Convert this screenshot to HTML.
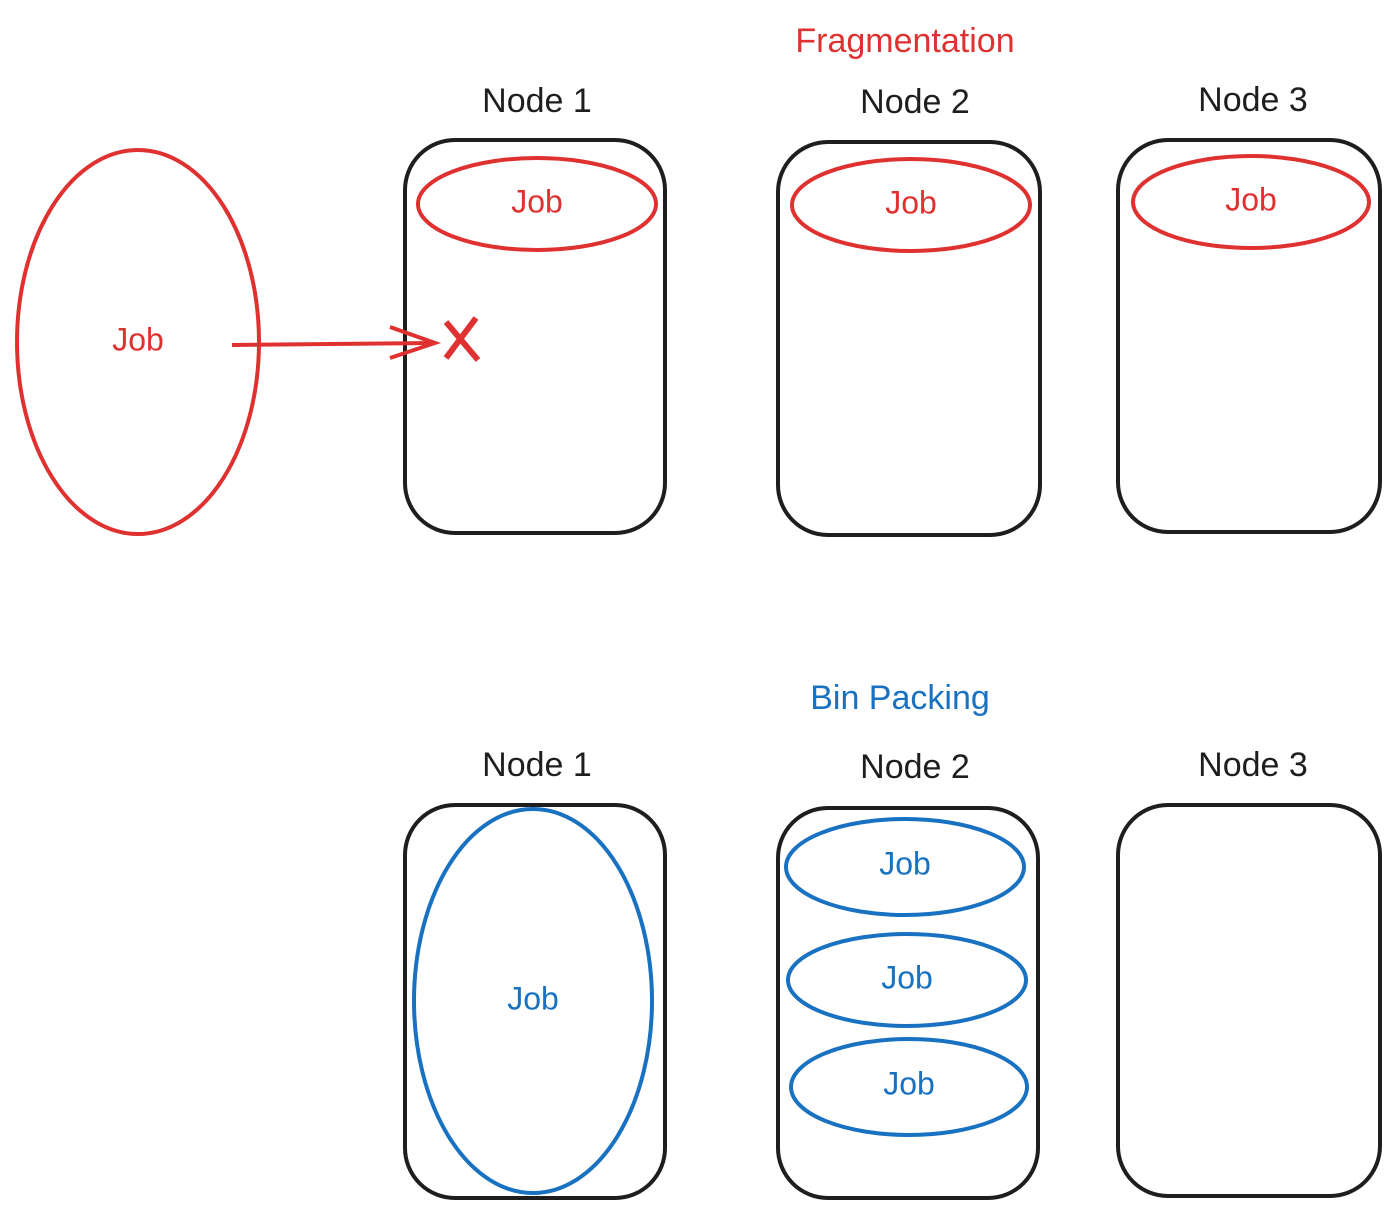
<!DOCTYPE html>
<html><head><meta charset="utf-8"><style>
html,body{margin:0;padding:0;background:#fff;}
svg{display:block}
text{font-family:"Liberation Sans",sans-serif;text-anchor:middle;dominant-baseline:middle}
</style></head><body>
<svg width="1399" height="1219" viewBox="0 0 1399 1219">
<g fill="none" stroke="#1e1e1e" stroke-width="4">
<rect x="405" y="140" width="260" height="393" rx="50"/>
<rect x="778" y="142" width="262" height="393" rx="50"/>
<rect x="1118" y="140" width="262" height="392" rx="50"/>
<rect x="405" y="805" width="260" height="393" rx="50"/>
<rect x="778" y="808" width="260" height="390" rx="50"/>
<rect x="1118" y="805" width="262" height="391" rx="50"/>
</g>
<g fill="#1e1e1e" font-size="34">
<text x="537" y="103">Node 1</text>
<text x="915" y="104">Node 2</text>
<text x="1253" y="102">Node 3</text>
<text x="537" y="767">Node 1</text>
<text x="915" y="769">Node 2</text>
<text x="1253" y="767">Node 3</text>
</g>
<text x="905" y="43" font-size="34" fill="#e03131">Fragmentation</text>
<text x="900" y="700" font-size="34" fill="#1971c2">Bin Packing</text>
<g fill="none" stroke="#e03131" stroke-width="4">
<ellipse cx="537" cy="204" rx="119" ry="46"/>
<ellipse cx="911" cy="205" rx="119" ry="46"/>
<ellipse cx="1251" cy="202" rx="118" ry="46"/>
<ellipse cx="138" cy="342" rx="121" ry="192"/>
<path d="M232 345 L435 343 M390 327 L435 343 L390 358"/>
<path d="M446 322 L478 360 M476 318 L446 358" stroke-width="6"/>
</g>
<g fill="#e03131" font-size="32">
<text x="537" y="204">Job</text>
<text x="911" y="205">Job</text>
<text x="1251" y="202">Job</text>
<text x="138" y="342">Job</text>
</g>
<g fill="none" stroke="#1971c2" stroke-width="4">
<ellipse cx="533" cy="1001" rx="119" ry="192"/>
<ellipse cx="905" cy="867" rx="119" ry="48"/>
<ellipse cx="907" cy="980" rx="119" ry="46"/>
<ellipse cx="909" cy="1087" rx="118" ry="48"/>
</g>
<g fill="#1971c2" font-size="32">
<text x="533" y="1001">Job</text>
<text x="905" y="866">Job</text>
<text x="907" y="980">Job</text>
<text x="909" y="1086">Job</text>
</g>
</svg>
</body></html>
